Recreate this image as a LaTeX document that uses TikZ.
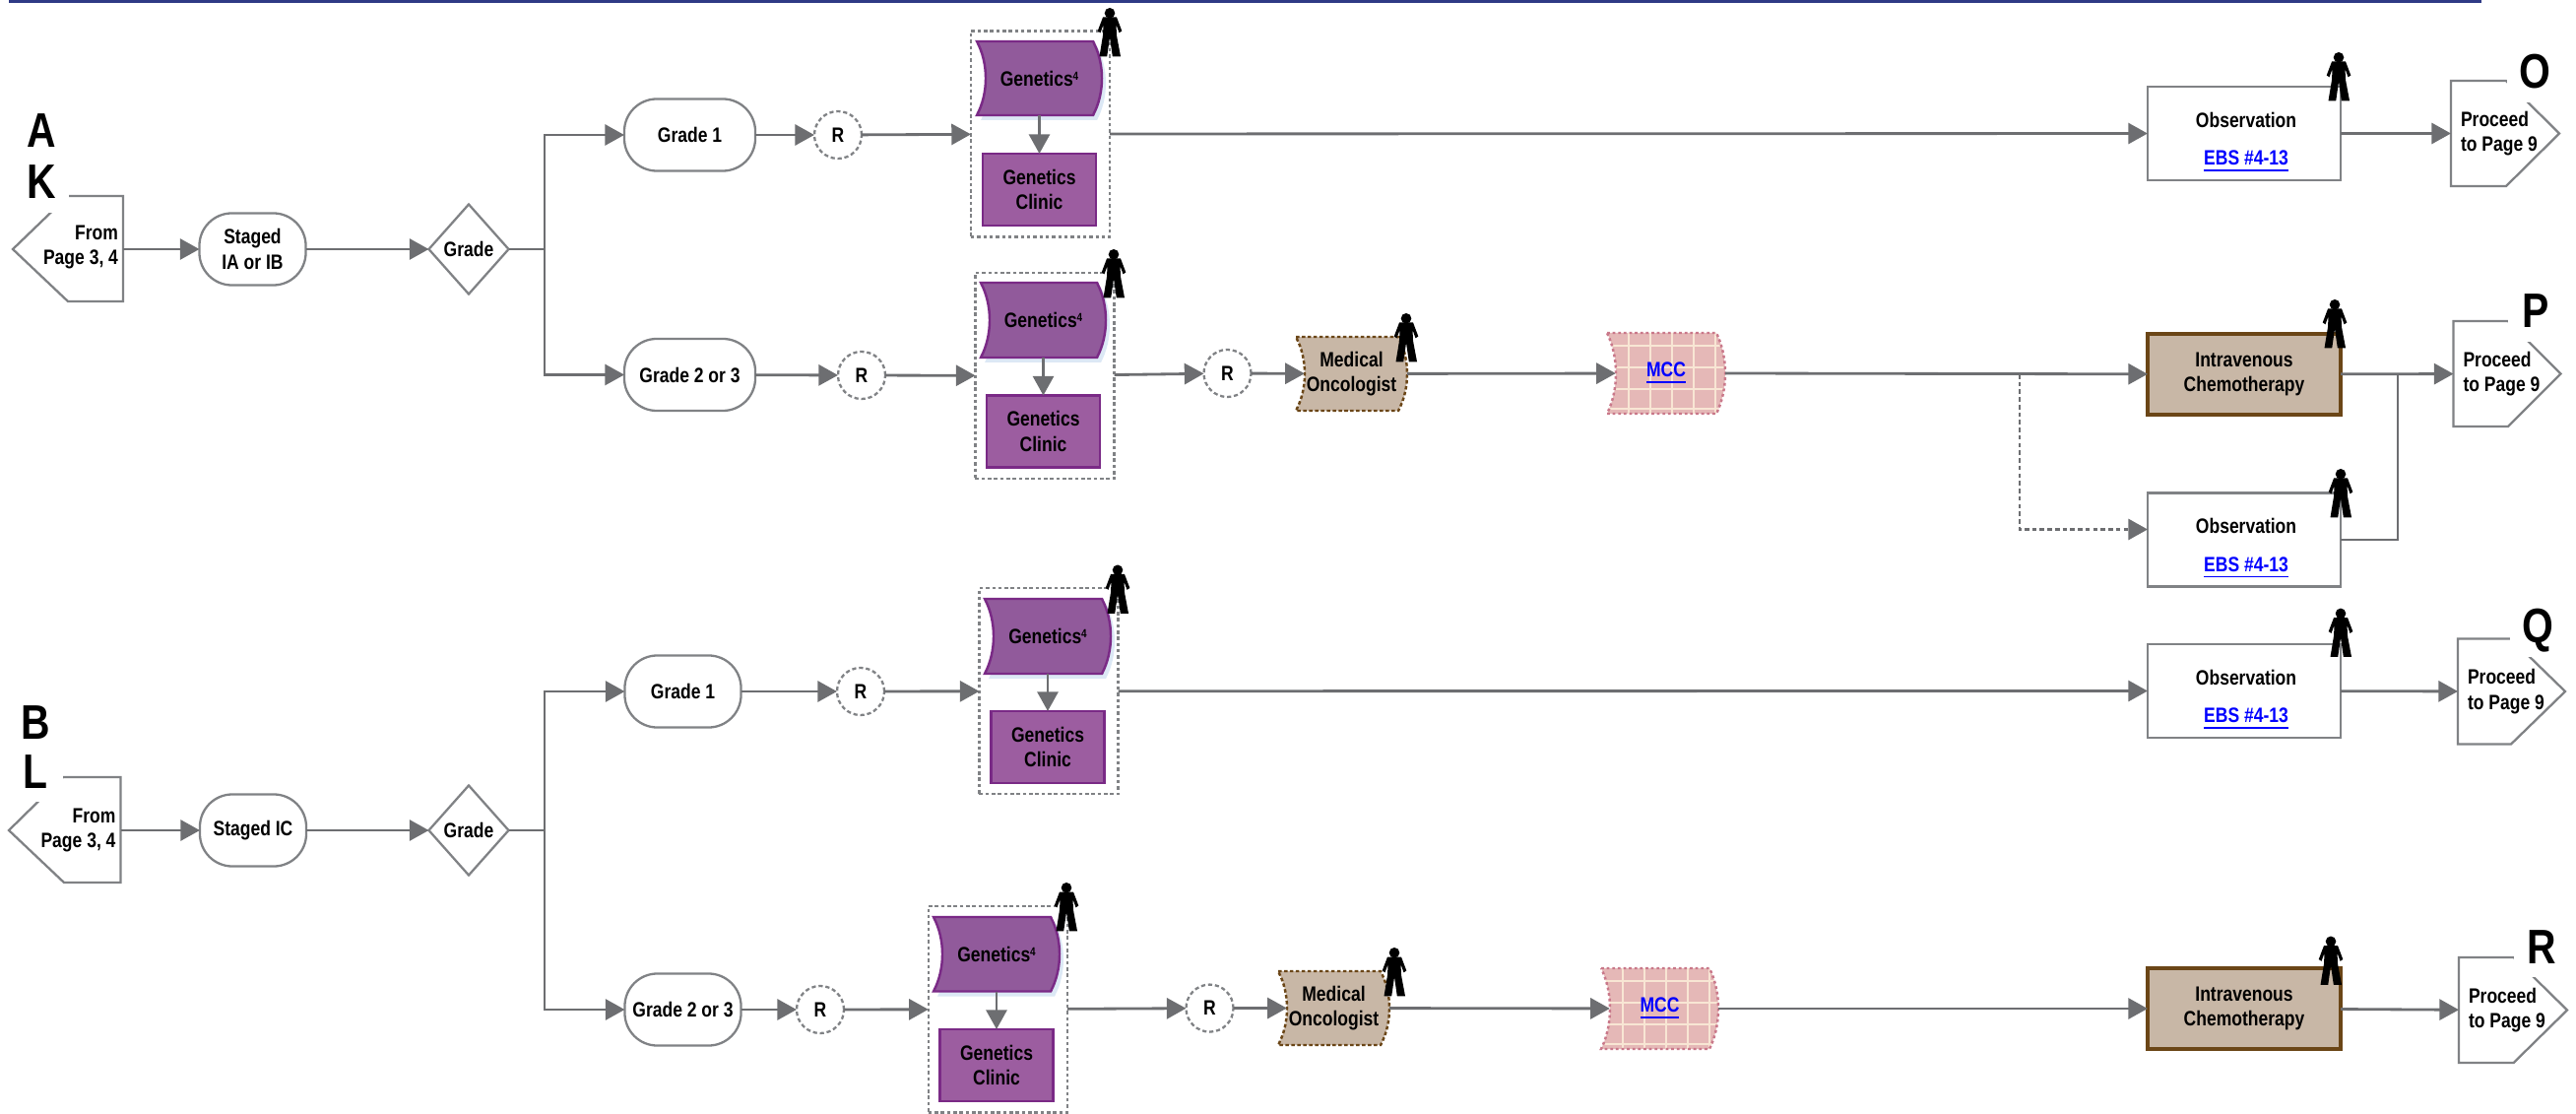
\documentclass[tikz,border=0pt]{standalone}
\usepackage{fontspec}
\newfontfamily\flowfont[FakeStretch=0.83]{Liberation Sans}
\usetikzlibrary{arrows.meta,calc,shapes.geometric}
\definecolor{navybar}{HTML}{2F3A85}
\definecolor{flowgray}{HTML}{6D6E71}
\definecolor{edgegray}{HTML}{808285}
\definecolor{genfill}{HTML}{915A9B}
\definecolor{clinicfill}{HTML}{9C5DA0}
\definecolor{genedge}{HTML}{7A2A86}
\definecolor{genshadow}{HTML}{DCE8F5}
\definecolor{tanfill}{HTML}{C8B7A6}
\definecolor{tanedge}{HTML}{6B4617}
\definecolor{mccfill}{HTML}{E5B8B7}
\definecolor{mccedge}{HTML}{C9788A}
\definecolor{mccgrid}{HTML}{F8E6D4}
\newcommand{\wavepath}[4]{(#1,#2) -- (#3-9,#2) .. controls (#3+3,#2*0.7+#4*0.3) and (#3+3,#2*0.3+#4*0.7) .. (#3-9,#4) -- (#1,#4) .. controls (#1+12,#2*0.3+#4*0.7) and (#1+12,#2*0.7+#4*0.3) .. (#1,#2) -- cycle}
\newcommand{\wavebox}[7]{
	\draw[#1] \wavepath{#3}{#4}{#5}{#6};
	\node[wavetext,minimum width={(#5-#3)*0.01cm},minimum height={(#6-#4)*0.01cm}] (#2) at ({(#3+#5)/2},{(#4+#6)/2}) {#7};
}
\newcommand{\gridbox}[6]{
	\begin{scope}
	\clip \wavepath{#2}{#3}{#4}{#5};
	\fill[mccfill] (#2-5,#3-5) rectangle (#4+5,#5+5);
	\foreach \dx in {22,44,66,88,110}
		\draw[mccgrid,line width=0.5pt] (#2+\dx,#3) -- (#2+\dx,#5);
	\foreach \dy in {13,35,57,77}
		\draw[mccgrid,line width=0.5pt] (#2,#3+\dy) -- (#4,#3+\dy);
	\end{scope}
	\draw[mccedge,line width=0.7pt,dash pattern=on 0.8pt off 0.8pt] \wavepath{#2}{#3}{#4}{#5};
	\node[wavetext,minimum width={(#4-#2)*0.01cm},minimum height={(#5-#3)*0.01cm}] (#1) at ({(#2+#4)/2},{(#3+#5)/2}) {\raisebox{-0.8pt}{\linktext{#6}}};
}
\newcommand{\linktext}[1]{\textcolor{blue}{\underline{#1}}}
\newcommand{\genlabel}{Genetics\raisebox{0.5ex}{\fontsize{3.4}{4}\selectfont 4}}
\tikzset{person/.pic={
	\fill[black] (0,5.3) circle [radius=5.3];
	\fill[black] (-7,9.5) -- (7,9.5) -- (12.3,23.5) -- (9.5,25.3) -- (6.5,17) -- (7,28) -- (11,49.3) -- (2.8,49.3) -- (0,30) -- (-2.8,49.3) -- (-10.5,49.3) -- (-7,28) -- (-6.5,17) -- (-9.5,25.3) -- (-12.3,23.5) -- cycle;
}}

\begin{document}
\begin{tikzpicture}[x=0.01cm,y=-0.01cm]
\tikzstyle{every node}=[outer sep=0pt,inner sep=0pt,font=\flowfont\bfseries\fontsize{6}{7.3}\selectfont]
\tikzstyle{pill}=[draw=edgegray,line width=0.65pt,rectangle,rounded corners=0.33cm,align=center,minimum height=0.73cm]
\tikzstyle{gradebox}=[pill,minimum width=1.33cm]
\tikzstyle{lowgrade}=[pill,minimum width=1.18cm]
\tikzstyle{stagebox}=[pill,minimum width=1.08cm]
\tikzstyle{decision}=[draw=edgegray,line width=0.65pt,diamond,shape aspect=0.89,minimum width=0.81cm,minimum height=0.91cm]
\tikzstyle{consult}=[draw=edgegray,line width=0.65pt,circle,dash pattern=on 1.2pt off 0.8pt,minimum size=0.48cm]
\tikzstyle{groupbox}=[draw=edgegray,line width=0.7pt,dash pattern=on 1pt off 0.8pt,minimum width=1.41cm,minimum height=2.09cm]
\tikzstyle{wavetext}=[align=center]
\tikzstyle{genshape}=[fill=genfill,draw=genedge,line width=0.7pt,preaction={draw=none,fill=genshadow,transform canvas={shift={(0.04cm,-0.05cm)}}}]
\tikzstyle{tanshape}=[fill=tanfill,draw=tanedge,line width=0.7pt,dash pattern=on 1pt off 0.7pt]
\tikzstyle{clinic}=[fill=clinicfill,draw=genedge,line width=0.7pt,align=center,minimum width=1.15cm,minimum height=0.73cm]
\tikzstyle{obsbox}=[draw=edgegray,line width=0.7pt,fill=white,minimum width=1.96cm,minimum height=0.95cm]
\tikzstyle{ivbox}=[draw=tanedge,line width=0.95pt,fill=tanfill,align=center,minimum width=1.96cm,minimum height=0.82cm]
\tikzstyle{pageline}=[draw=edgegray,line width=0.65pt,fill=white]
\tikzstyle{bigletter}=[font=\flowfont\bfseries\fontsize{14}{14}\selectfont,anchor=base,minimum width=0.56cm]
\tikzstyle{bigmask}=[bigletter,fill=white,text depth=0.14cm]
\tikzstyle{line}=[flowgray,line width=0.8pt]
\tikzstyle{flow}=[line,-{Triangle[length=5.6pt,width=6pt]}]
\tikzstyle{intowave}=[flow,shorten >=-2.5pt]
\useasboundingbox (0,0) rectangle (2616,1131);
\fill[navybar] (9,0) rectangle (2520,2.7);
% dashed groups
\foreach \name/\point in {
	grp1/{1056.5,136},
	grp2/{1061,381.5},
	grp3/{1065,701.7},
	grp4/{1013.3,1024.7}}
	\node[groupbox] (\name) at (\point) {};
% left entries
\draw[pageline] (13,253) -- (69,199) -- (125,199) -- (125,306) -- (69,306) -- cycle;
\node[anchor=east,align=right,inner sep=0.05cm] (fromA) at (125,251) {From\\Page 3, 4};
\coordinate (outA) at (125,253);
\draw[pageline] (9,843) -- (64,789) -- (122.5,789) -- (122.5,896) -- (65,896) -- cycle;
\node[anchor=east,align=right,inner sep=0.05cm] (fromB) at (122.5,843) {From\\Page 3, 4};
\node[stagebox] (stageA) at (256.5,253) {Staged\\IA or IB};
\node[stagebox] (stageB) at (257,843) {Staged IC};
\node[decision] (gradeA) at (476,253) {Grade};
\node[decision] (gradeB) at (476,843) {Grade};
\coordinate (forkA) at (553,253);
\coordinate (forkB) at (553,843);
\node[gradebox] (g1) at (700.5,137) {Grade 1};
\node[gradebox] (g2) at (700.5,380.5) {Grade 2 or 3};
\node[lowgrade] (g3) at (693.5,702) {Grade 1};
\node[lowgrade] (g4) at (693.5,1025) {Grade 2 or 3};
\foreach \name/\point in {
	r1/{851,137},
	r2/{875,381},
	r3/{1246.5,379},
	r4/{874,702},
	r5/{833,1025},
	r6/{1228.5,1023.6}}
	\node[consult] (\name) at (\point) {R};
% genetics
\wavebox{genshape}{gen1}{992}{42}{1119}{117}{\genlabel}
\wavebox{genshape}{gen2}{996}{287}{1123}{363}{\genlabel}
\wavebox{genshape}{gen3}{1000}{608}{1128}{684}{\genlabel}
\wavebox{genshape}{gen4}{948}{931}{1076}{1006.5}{\genlabel}
\foreach \name/\point in {
	cl1/{1055.5,192.5},
	cl2/{1059.5,438},
	cl3/{1064,758.5},
	cl4/{1012,1081.5}}
	\node[clinic] (\name) at (\point) {Genetics\\Clinic};
\wavebox{tanshape}{med1}{1316}{342}{1429}{417}{Medical\\Oncologist}
\wavebox{tanshape}{med2}{1298}{986}{1411}{1061}{Medical\\Oncologist}
\gridbox{mcc1}{1632}{338}{1752}{420}{MCC}
\gridbox{mcc2}{1626}{983}{1745}{1065}{MCC}
% right column
\foreach \name/\point in {
	obs1/{2279,135.5},
	obs2/{2279,548},
	obs3/{2279,701.5}}{
	\node[obsbox] (\name) at (\point) {};
	\node[align=center] (\name txt) at ($(\name)+(2,9)$) {Observation\\[3.7pt]\linktext{EBS \#4-13}};
}
\node[ivbox] (iv1) at (2279,380) {Intravenous\\Chemotherapy};
\node[ivbox] (iv2) at (2279,1024) {Intravenous\\Chemotherapy};
\foreach \name/\lx/\nx/\tx/\ty in {
	pr1/2489/2545/2599/135.5,
	pr2/2491.5/2547/2600.5/379.5,
	pr3/2496/2550/2605/702,
	pr4/2497/2552.6/2607/1025.5}{
	\draw[pageline] (\lx,\ty-53.5) -- (\nx,\ty-53.5) -- (\tx,\ty) -- (\nx,\ty+53.5) -- (\lx,\ty+53.5) -- cycle;
	\node[anchor=west,align=left,inner sep=0.1cm] (\name) at (\lx,\ty) {Proceed\\to Page 9};
}
% connectors
\draw[flow] (outA) -- (stageA);
\draw[flow] (fromB.east) -- (stageB);
\draw[flow] (stageA) -- (gradeA);
\draw[flow] (stageB) -- (gradeB);
\draw[line] (gradeA) -- (forkA);
\draw[line] (gradeB) -- (forkB);
\draw[flow] (forkA) |- (g1);
\draw[flow] (forkA) |- (g2);
\draw[flow] (forkB) |- (g3);
\draw[flow] (forkB) |- (g4);
\draw[flow] (g1) -- (r1);
\draw[flow] (g2) -- (r2);
\draw[flow] (g3) -- (r4);
\draw[flow] (g4) -- (r5);
\draw[flow] (r1) -- (grp1);
\draw[flow] (r2) -- (grp2);
\draw[flow] (r4) -- (grp3);
\draw[flow] (r5) -- (grp4);
\foreach \i in {1,2,3,4}
	\draw[flow] (gen\i) -- (cl\i);
\draw[flow] (grp1) -- (obs1);
\draw[flow] (grp3) -- (obs3);
\draw[flow] (grp2) -- (r3);
\draw[flow] (grp4) -- (r6);
\draw[intowave] (r3) -- (med1);
\draw[intowave] (r6) -- (med2);
\draw[intowave] (med1) -- (mcc1);
\draw[intowave] (med2) -- (mcc2);
\draw[flow] (mcc1.east) -- (iv1);
\draw[flow] (mcc2.east) -- (iv2);
\coordinate (dashfork) at (2051,380);
\coordinate (obs2in) at (2181,537.5);
\draw[flow,dash pattern=on 1.3pt off 0.9pt] (dashfork) |- (obs2in);
\draw[flow] (obs1) -- (pr1);
\draw[flow] (iv1) -- (pr2);
\draw[flow] (obs3) -- (pr3);
\draw[flow] (iv2) -- (pr4);
\coordinate (joinP) at (2435,380);
\coordinate (obs2out) at (2377,548);
\draw[line] (obs2out) -| (joinP);
% people
\foreach \px/\py in {1127/8,1131/253,1428/318,2375/53,2371/304,2377/476,1135/573.5,2377/617.6,2367/950.5,1083/896,1416/962}
	\pic at (\px,\py) {person};
% letters
\node[bigletter] (tagA) at (42,150) {A};
\node[bigmask] (tagK) at (42,202) {K};
\node[bigletter] (tagB) at (36,750) {B};
\node[bigmask] (tagL) at (36,800) {L};
\node[bigmask] (tagO) at (2574,90) {O};
\node[bigmask] (tagP) at (2575,333) {P};
\node[bigmask] (tagQ) at (2577,652.5) {Q};
\node[bigmask] (tagR) at (2581,978) {R};
\end{tikzpicture}
\end{document}
